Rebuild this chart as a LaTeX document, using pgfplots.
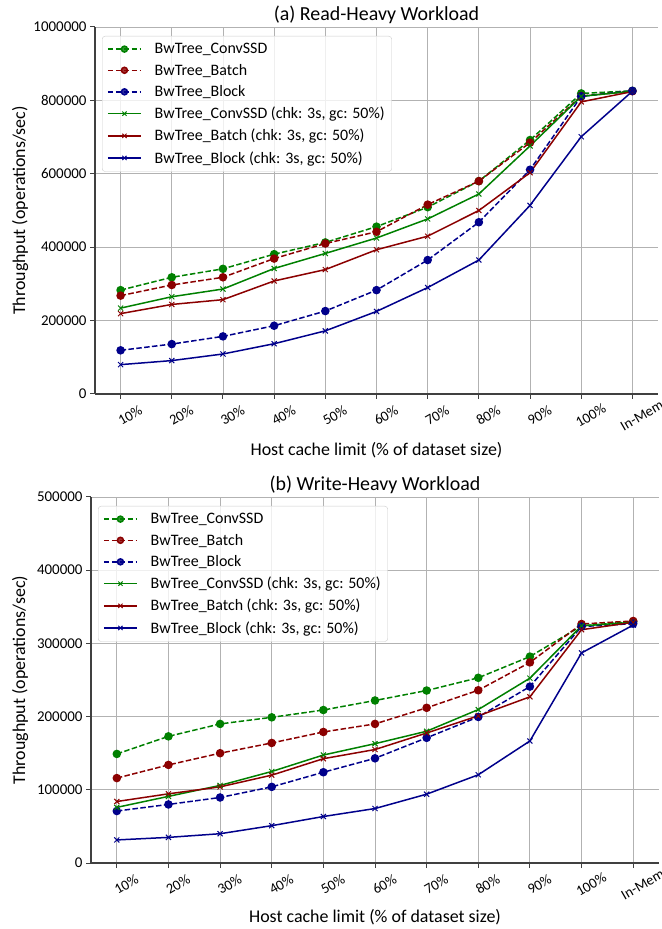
\documentclass[border=0pt]{standalone}
\usepackage{pgfplots}
\pgfplotsset{compat=1.18}
\usepackage{pgfplotstable}
\usepackage{fontspec}
\setmainfont{Carlito}
\definecolor{cgreen}{RGB}{0,128,0}
\definecolor{cred}{RGB}{139,0,0}
\definecolor{cblue}{RGB}{0,0,139}

\pgfplotstableread{
idx gd rd bd gx rx bx
0 283000 268000 119000 234000 219000 80000
1 318000 297000 136000 265000 244000 91000
2 341000 318000 157000 286000 257000 109000
3 381000 369000 186000 342000 308000 137000
4 413000 410000 226000 383000 339000 172000
5 456000 442000 283000 425000 393000 225000
6 509000 516000 365000 477000 430000 290000
7 580000 580000 468000 545000 500000 365000
8 692000 685000 611000 676000 603000 514000
9 819000 812000 811000 811000 796000 701000
10 826000 825000 826000 825000 824000 825000
}\readheavy

\pgfplotstableread{
idx gd rd bd gx rx bx
0 149000 116000 71000 76000 84000 31500
1 173000 134000 80000 91000 94500 35000
2 190000 150000 89500 106000 104000 40000
3 199000 164000 104000 125000 120000 51000
4 209000 179000 124000 147500 142500 63500
5 222000 190000 143000 163000 155000 74400
6 235600 212000 171000 180000 177600 94000
7 253000 236000 199500 209600 201000 120500
8 282000 274000 241000 252500 227000 166700
9 324000 326500 323000 324000 318700 287000
10 329700 330600 327000 328800 328800 325000
}\writeheavy

\pgfplotsset{
  mystyle/.style={
    scale only axis,
    xmin=-0.5, xmax=10.5,
    xtick={0,...,10},
    xticklabels={10\%,20\%,30\%,40\%,50\%,60\%,70\%,80\%,90\%,100\%,In-Mem},
    axis x line*=bottom, axis y line*=left,
    axis line style={-, draw=black!75, line width=1.2bp},
    tick align=outside,
    major tick length=5bp,
    tick style={draw=black!75, line width=1bp},
    grid=major,
    grid style={draw=gray!60, line width=0.9bp},
    scaled y ticks=false,
    /pgf/number format/.cd, fixed, 1000 sep={}, assume math mode=true,
    /pgfplots/.cd,
    yticklabel style={font=\fontsize{15}{18}\selectfont},
    xticklabel style={font=\fontsize{14.5}{17}\selectfont, rotate=30, anchor=center, yshift=-19bp, inner sep=1bp},
    every axis title shift=0pt,
    title style={font=\fontsize{20}{24}\selectfont, anchor=center},
    every axis y label/.style={rotate=90, anchor=center, font=\fontsize{18}{21}\selectfont},
    every axis x label/.style={anchor=center, font=\fontsize{18}{21}\selectfont},
    legend cell align=left,
    legend style={at={(0,1)}, anchor=north west, xshift=7bp, yshift=-9bp,
      font=\fontsize{16}{18}\selectfont,
      draw=gray!40, rounded corners=3bp, fill=white, fill opacity=0.8, text opacity=1,
      inner xsep=5bp, inner ysep=5bp, row sep=5bp,
      /tikz/every odd column/.append style={column sep=11bp}},
    legend image code/.code={\draw[mark repeat=2,mark phase=2,mark size=3bp] plot coordinates {(0bp,0bp) (16.5bp,0bp) (33bp,0bp)};},
    dsh/.style={line width=1.5bp, dash pattern=on 5.5bp off 2.4bp, mark=*, mark size=3.5bp, mark options={solid}},
    sld/.style={line width=1.5bp, mark=x, mark size=3.6bp, mark options={solid, line width=1bp}},
  }
}

\begin{document}
\begin{tikzpicture}
\useasboundingbox (0,0) rectangle (662bp,929bp);
\begin{axis}[mystyle,
  at={(95bp,535bp)}, anchor=south west,
  width=563bp, height=367bp,
  ymin=0, ymax=1000000, ytick={0,200000,...,1000000},
  title={(a) Read-Heavy Workload},
  title style={at={(axis description cs:0.5,1.033)}},
  xlabel={Host cache limit (\% of dataset size)},
  xlabel style={at={(axis description cs:0.5,-0.153)}},
  ylabel={Throughput (operations/sec)},
  ylabel style={at={(axis description cs:-0.133,0.5)}},
]
\addplot[dsh, color=cgreen] table[x=idx,y=gd] {\readheavy};
\addlegendentry{BwTree\_ConvSSD}
\addplot[dsh, color=cred] table[x=idx,y=rd] {\readheavy};
\addlegendentry{BwTree\_Batch}
\addplot[dsh, color=cblue] table[x=idx,y=bd] {\readheavy};
\addlegendentry{BwTree\_Block}
\addplot[sld, color=cgreen] table[x=idx,y=gx] {\readheavy};
\addlegendentry{BwTree\_ConvSSD (chk: 3s, gc: 50\%)}
\addplot[sld, color=cred] table[x=idx,y=rx] {\readheavy};
\addlegendentry{BwTree\_Batch (chk: 3s, gc: 50\%)}
\addplot[sld, color=cblue] table[x=idx,y=bx] {\readheavy};
\addlegendentry{BwTree\_Block (chk: 3s, gc: 50\%)}
\end{axis}

\begin{axis}[mystyle,
  at={(91bp,66bp)}, anchor=south west,
  width=568bp, height=366bp,
  ymin=0, ymax=500000, ytick={0,100000,...,500000},
  title={(b) Write-Heavy Workload},
  title style={at={(axis description cs:0.5,1.033)}},
  xlabel={Host cache limit (\% of dataset size)},
  xlabel style={at={(axis description cs:0.5,-0.148)}},
  ylabel={Throughput (operations/sec)},
  ylabel style={at={(axis description cs:-0.125,0.5)}},
]
\addplot[dsh, color=cgreen] table[x=idx,y=gd] {\writeheavy};
\addlegendentry{BwTree\_ConvSSD}
\addplot[dsh, color=cred] table[x=idx,y=rd] {\writeheavy};
\addlegendentry{BwTree\_Batch}
\addplot[dsh, color=cblue] table[x=idx,y=bd] {\writeheavy};
\addlegendentry{BwTree\_Block}
\addplot[sld, color=cgreen] table[x=idx,y=gx] {\writeheavy};
\addlegendentry{BwTree\_ConvSSD (chk: 3s, gc: 50\%)}
\addplot[sld, color=cred] table[x=idx,y=rx] {\writeheavy};
\addlegendentry{BwTree\_Batch (chk: 3s, gc: 50\%)}
\addplot[sld, color=cblue] table[x=idx,y=bx] {\writeheavy};
\addlegendentry{BwTree\_Block (chk: 3s, gc: 50\%)}
\end{axis}
\end{tikzpicture}
\end{document}
